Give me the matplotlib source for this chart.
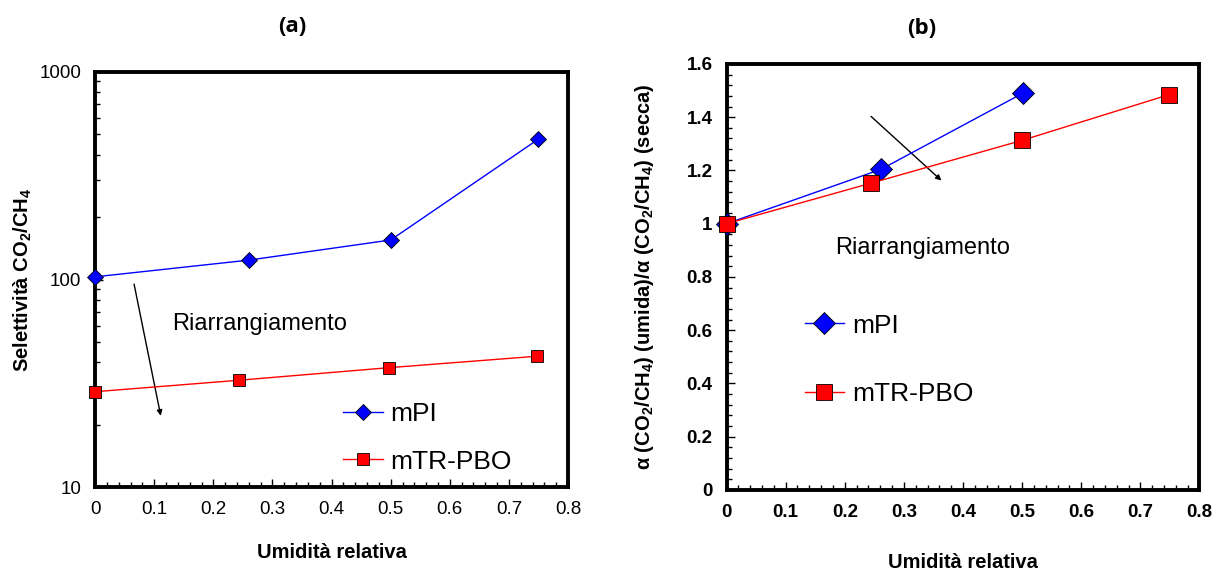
import matplotlib
matplotlib.use("Agg")
import matplotlib.pyplot as plt
from matplotlib.ticker import MultipleLocator, LogLocator, NullFormatter, FixedLocator

plt.rcParams['font.family'] = ['Liberation Sans', 'DejaVu Sans']
plt.rcParams['mathtext.fontset'] = 'custom'
plt.rcParams['mathtext.rm'] = 'Liberation Sans'
plt.rcParams['mathtext.bf'] = 'Liberation Sans:bold'

# Panel (a) data
x_mpi_a = [0.0, 0.26, 0.5, 0.75]
y_mpi_a = [103, 124, 155, 475]
x_pbo_a = [0.0, 0.243, 0.497, 0.748]
y_pbo_a = [28.8, 32.7, 37.6, 42.7]

# Panel (b) data
x_mpi_b = [0.0, 0.262, 0.501]
y_mpi_b = [1.0, 1.205, 1.49]
x_pbo_b = [0.0, 0.244, 0.5, 0.749]
y_pbo_b = [1.0, 1.152, 1.313, 1.485]

xticks = [0, 0.1, 0.2, 0.3, 0.4, 0.5, 0.6, 0.7, 0.8]
xticklabels = ['0', '0.1', '0.2', '0.3', '0.4', '0.5', '0.6', '0.7', '0.8']
yticks_b = [0, 0.2, 0.4, 0.6, 0.8, 1.0, 1.2, 1.4, 1.6]
yticklabels_b = ['0', '0.2', '0.4', '0.6', '0.8', '1', '1.2', '1.4', '1.6']

fig = plt.figure(figsize=(12.19, 5.71), dpi=100)
axA = fig.add_axes([0.078, 0.147, 0.388, 0.727])
axB = fig.add_axes([0.596, 0.142, 0.388, 0.746])

def style(ax):
    for s in ax.spines.values():
        s.set_linewidth(2.8)
    ax.tick_params(which='both', direction='in', top=False, right=False, width=1.0)
    ax.tick_params(which='major', length=6)
    ax.tick_params(which='minor', length=3.5)
    ax.xaxis.set_minor_locator(MultipleLocator(0.02))

# ---- Panel (a)
ax = axA
ax.plot(x_mpi_a, y_mpi_a, color='#0000FF', lw=1, marker='D', ms=8.5,
        mfc='#0000FF', mec='black', mew=0.6, label='mPI', clip_on=False, zorder=5)
ax.plot(x_pbo_a, y_pbo_a, color='#FF0000', lw=1, marker='s', ms=8.5,
        mfc='#FF0000', mec='black', mew=0.6, label='mTR-PBO', clip_on=False, zorder=5)
ax.set_yscale('log')
ax.set_ylim(10, 1000)
ax.set_xlim(0, 0.8)
ax.set_xticks(xticks)
ax.set_xticklabels(xticklabels)
ax.yaxis.set_major_locator(FixedLocator([10, 100, 1000]))
ax.set_yticklabels(['10', '100', '1000'])
ax.yaxis.set_minor_locator(LogLocator(base=10, subs=range(2, 10)))
ax.yaxis.set_minor_formatter(NullFormatter())
style(ax)
ax.tick_params(axis='both', which='major', labelsize=13.5, pad=10)
ax.set_xlabel('Umidità relativa', fontsize=14.5, fontweight='bold', labelpad=18)
ax.set_ylabel('Selettività CO$_\\mathbf{2}$/CH$_\\mathbf{4}$', fontsize=14.5, fontweight='bold', labelpad=4)
ax.annotate('', xy=(0.112, 21.4), xytext=(0.065, 98),
            arrowprops=dict(arrowstyle='-|>', color='black', lw=1, mutation_scale=8))
ax.text(0.130, 61, 'Riarrangiamento', fontsize=17, va='center', ha='left')
ax.legend(loc='center left', bbox_to_anchor=(0.524, 0.119), frameon=False, fontsize=19,
          handlelength=1.5, labelspacing=0.9, borderpad=0, borderaxespad=0, handletextpad=0.3)

# ---- Panel (b)
ax = axB
ax.plot(x_mpi_b, y_mpi_b, color='#0000FF', lw=1, marker='D', ms=11.5,
        mfc='#0000FF', mec='black', mew=0.6, label='mPI', clip_on=False, zorder=5)
ax.plot(x_pbo_b, y_pbo_b, color='#FF0000', lw=1, marker='s', ms=12,
        mfc='#FF0000', mec='black', mew=0.6, label='mTR-PBO', clip_on=False, zorder=5)
ax.set_xlim(0, 0.8)
ax.set_ylim(0, 1.6)
ax.set_xticks(xticks)
ax.set_xticklabels(xticklabels)
ax.set_yticks(yticks_b)
ax.set_yticklabels(yticklabels_b)
ax.yaxis.set_minor_locator(MultipleLocator(0.04))
style(ax)
ax.tick_params(axis='both', which='major', labelsize=13.5, pad=10)
for lab in ax.get_xticklabels() + ax.get_yticklabels():
    lab.set_fontweight('bold')
ax.set_xlabel('Umidità relativa', fontsize=14.5, fontweight='bold', labelpad=23)
ax.set_ylabel('α (CO$_\\mathbf{2}$/CH$_\\mathbf{4}$) (umida)/α (CO$_\\mathbf{2}$/CH$_\\mathbf{4}$) (secca)',
              fontsize=14.5, fontweight='bold', labelpad=22)
ax.annotate('', xy=(0.367, 1.155), xytext=(0.241, 1.41),
            arrowprops=dict(arrowstyle='-|>', color='black', lw=1, mutation_scale=8))
ax.text(0.183, 0.91, 'Riarrangiamento', fontsize=17, va='center', ha='left')
ax.legend(loc='center left', bbox_to_anchor=(0.165, 0.305), frameon=False, fontsize=19,
          handlelength=1.5, labelspacing=1.7, borderpad=0, borderaxespad=0, handletextpad=0.3)

fig.text(292 / 1219, 1 - 27 / 571, '(a)', fontsize=16, fontweight='bold',
         family=['Open Sans', 'DejaVu Sans'], ha='center', va='center')
fig.text(922 / 1219, 1 - 28 / 571, '(b)', fontsize=16, fontweight='bold',
         family=['Open Sans', 'DejaVu Sans'], ha='center', va='center')

fig.savefig('out.png', dpi=100)
